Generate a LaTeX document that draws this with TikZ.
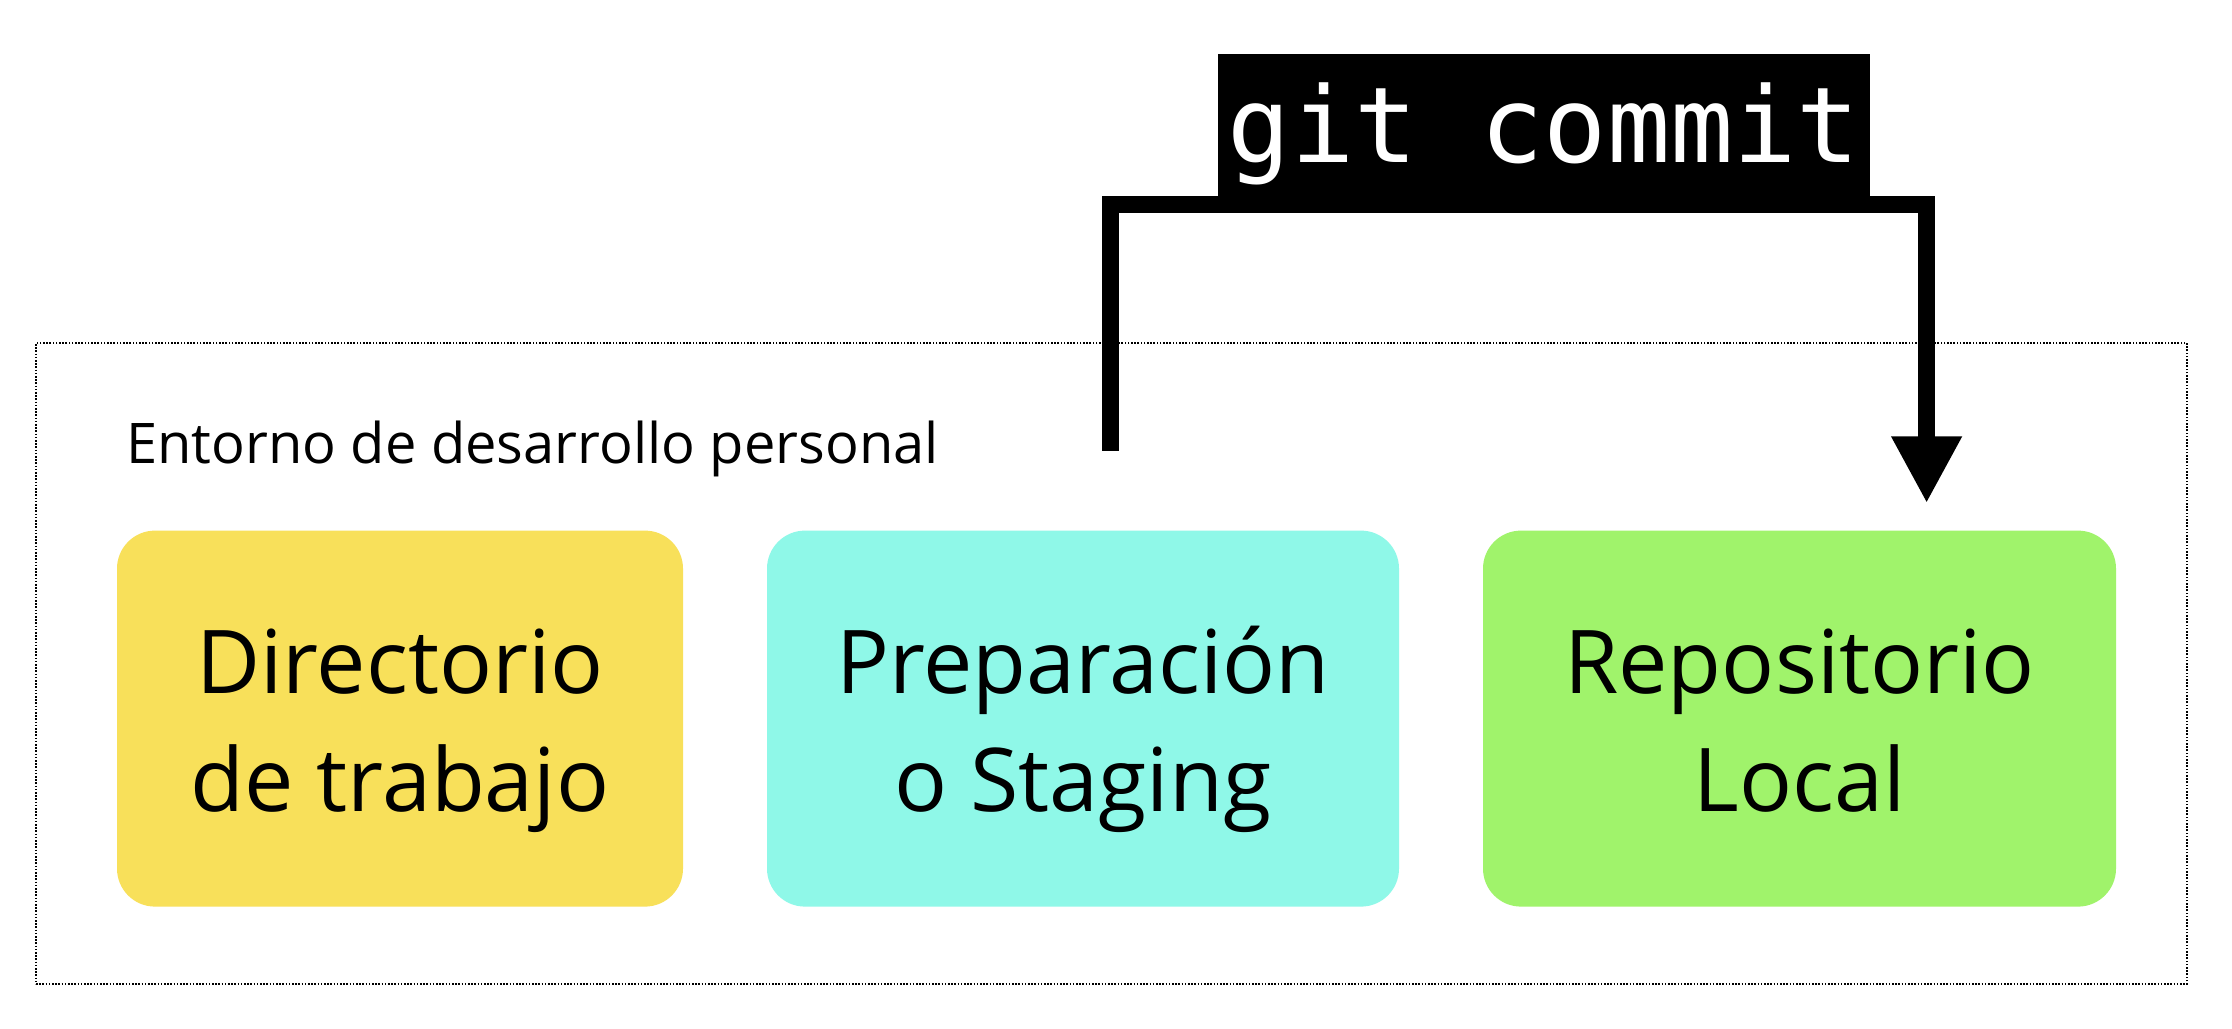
\documentclass[tikz,border=0pt]{standalone}
\usepackage{fontspec}
\setmainfont{Open Sans}
\newfontfamily\gitmono{DejaVu Sans Mono}
\usetikzlibrary{arrows.meta}
\definecolor{boxyellow}{HTML}{F8E05A}
\definecolor{boxcyan}{HTML}{8FF8E8}
\definecolor{boxgreen}{HTML}{A0F36B}
\tikzset{
  area/.style={rounded corners=38pt, inner sep=0pt, minimum height=376pt, align=center,
    text height=186.4pt, text depth=0pt,
    font=\fontsize{88}{118.4}\selectfont},
  envframe/.style={draw=black, line width=1.6pt, dash pattern=on 1.6pt off 1.6pt},
  cmdbox/.style={fill=black, text=white, inner sep=0pt, minimum width=652pt,
    text height=108.7pt, text depth=33.3pt, font=\gitmono\fontsize{105}{110}\selectfont},
  flow/.style={line width=17pt, line cap=butt, line join=miter,
    -{Triangle[width=66pt, length=67pt]}},
  envlabel/.style={anchor=base west, inner sep=0pt, font=\fontsize{56}{66}\selectfont}
}
\begin{document}
\begin{tikzpicture}[x=1pt, y=-1pt]
\useasboundingbox (0,0) rectangle (2232,1028);
\fill[white] (0,0) rectangle (2232,1028);
% environment frame
\node[envframe, inner sep=0pt, minimum width=2151pt, minimum height=641pt] (env) at (1111.5,663.5) {};
\node[envlabel] (envtxt) at (126,463) {Entorno de desarrollo personal};
% areas
\node[area, fill=boxyellow, minimum width=566pt] (work) at (400,718.6) {Directorio\\de trabajo};
\node[area, fill=boxcyan, minimum width=632pt] (stage) at (1083,718.6) {Preparación\\o Staging};
\node[area, fill=boxgreen, minimum width=633pt] (repo) at (1799.5,718.6) {Repositorio\\Local};
% command
\node[cmdbox, anchor=south] (cmd) at (1544,196) {git commit};
\coordinate (src) at (1110,450.7);
\coordinate (dst) at (1926.6,503.3);
\draw[flow] (src) -- (1110,204.7) -- (1926.6,204.7) -- (dst);
\end{tikzpicture}
\end{document}
